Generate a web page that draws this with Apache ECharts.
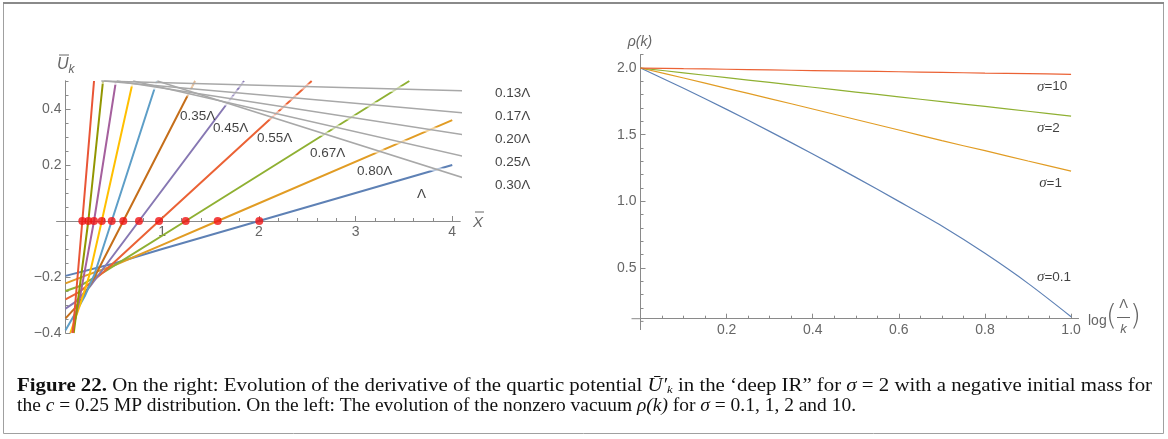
<!DOCTYPE html>
<html><head><meta charset="utf-8">
<script src="https://cdn.jsdelivr.net/npm/echarts@6/dist/echarts.min.js"></script>
<style>html,body{margin:0;padding:0;background:#fff}#c{width:1168px;height:439px}</style>
</head><body><div id="c"></div>
<script>
// ---------- LEFT PANEL DATA (U'_k vs X) ----------
const leftNames = ['Λ','0.80Λ','0.67Λ','0.55Λ','0.45Λ','0.35Λ','0.30Λ','0.25Λ','0.20Λ','0.17Λ','0.13Λ'];
const curveL100 = [[0,-0.196],[0.5,-0.152],[1.0,-0.1],[2.0,0],[3.0,0.1],[4.0,0.2]];
const curveL080 = [[0,-0.223],[0.2,-0.196],[0.5,-0.159],[1.0,-0.085],[1.574,0],[4.0,0.36]];
const curveL067 = [[0,-0.25],[0.15,-0.232],[0.4,-0.182],[1.243,0],[3.556,0.5]];
const curveL055 = [[0,-0.28],[0.15,-0.252],[0.4,-0.18],[0.967,0],[2.546,0.5]];
const curveL045 = [[0,-0.313],[0.1,-0.29],[0.25,-0.235],[0.4,-0.166],[0.76,0],[1.846,0.5]];
const curveL035 = [[0,-0.348],[0.1,-0.31],[0.2,-0.261],[0.3,-0.2],[0.598,0],[1.34,0.5]];
const curveL030 = [[0,-0.39],[0.1,-0.33],[0.2,-0.268],[0.3,-0.19],[0.478,0],[0.946,0.5]];
const curveL025 = [[0.05,-0.4],[0.15,-0.3],[0.25,-0.19],[0.375,0],[0.698,0.5]];
const curveL020 = [[0.07,-0.4],[0.15,-0.27],[0.295,0],[0.522,0.5]];
const curveL017 = [[0.085,-0.4],[0.236,0],[0.388,0.5]];
const curveL013 = [[0.075,-0.4],[0.174,0],[0.295,0.5]];
const leftCurves = [curveL100,curveL080,curveL067,curveL055,curveL045,curveL035,curveL030,curveL025,curveL020,curveL017,curveL013];
const zeroCrossings = [2.004,1.574,1.243,0.967,0.76,0.598,0.478,0.375,0.295,0.236,0.174];
const xTicksLeft = [1,2,3,4];
const yTicksLeft = [-0.4,-0.2,0.2,0.4];

// ---------- RIGHT PANEL DATA (rho(k) vs log(Λ/k)) ----------
const rightNames = ['σ=0.1','σ=1','σ=2','σ=10'];
const logLk = [0,0.1,0.2,0.3,0.4,0.5,0.6,0.7,0.8,0.9,1.0];
const rhoSigma01 = [2.0,1.848,1.69,1.525,1.355,1.18,1.0,0.815,0.61,0.385,0.135];
const rhoSigma1  = [2.0,1.925,1.848,1.771,1.693,1.614,1.535,1.455,1.38,1.303,1.227];
const rhoSigma2  = [2.0,1.964,1.928,1.892,1.856,1.82,1.784,1.748,1.712,1.676,1.64];
const rhoSigma10 = [2.0,1.995,1.991,1.986,1.981,1.977,1.972,1.967,1.962,1.958,1.953];
const rightSeries = [rhoSigma01,rhoSigma1,rhoSigma2,rhoSigma10];
const xTicksRight = [0.2,0.4,0.6,0.8,1.0];
const yTicksRight = [0.5,1.0,1.5,2.0];

// ---------- STYLE / LAYOUT (not data) ----------
const leftColors = ['#5E81B5','#E19C24','#8FB032','#EB6235','#8778B3','#C56E1A','#5D9EC7','#FFBF00','#A5609D','#929600','#E95536'];
const rightColors = ['#5E81B5','#E19C24','#8FB032','#EB6235'];
const axisCol = '#8a8a8a', labCol = '#666666';
const leftLabelAnchor = {
  '0.35Λ':[1.184,0.375],'0.45Λ':[1.525,0.332],'0.55Λ':[1.98,0.296],'0.67Λ':[2.528,0.243],
  '0.80Λ':[3.014,0.179],'Λ':[3.635,0.096],
  '0.13Λ':[4.442,0.457],'0.17Λ':[4.442,0.375],'0.20Λ':[4.442,0.293],'0.25Λ':[4.442,0.211],'0.30Λ':[4.442,0.129]
};
const calloutNames = ['0.13Λ','0.17Λ','0.20Λ','0.25Λ','0.30Λ'];
const calloutStartX = [0.37,0.40,0.53,0.70,0.95];
const rightLabelAnchor = {'σ=10':[0.921,1.86],'σ=2':[0.921,1.548],'σ=1':[0.926,1.135],'σ=0.1':[0.921,0.43]};

function range(a,b,s,skip){const r=[];for(let v=a;v<=b+1e-9;v+=s){const x=Math.round(v*1000)/1000;if(!skip.some(k=>Math.abs(k-x)<1e-6))r.push(x);}return r;}
const fmt1 = v => (v<0?'\u2212':'')+Math.abs(v).toFixed(1);

const chart = echarts.init(document.getElementById('c'));

function mkAx(grid,pos,offset,min,max,ticks,labels,len,fmt){
  return {type:'value',gridIndex:grid,position:pos,offset:offset,min:min,max:max,
    axisLine:{show:true,onZero:false,lineStyle:{color:axisCol,width:1}},
    axisTick:{show:true,inside:true,length:len,customValues:ticks,lineStyle:{color:axisCol}},
    axisLabel:{show:labels,customValues:ticks,color:labCol,fontSize:14,fontFamily:'Liberation Sans',margin:4,formatter:fmt},
    splitLine:{show:false},minorTick:{show:false}};
}
const L_XOFF = -112, L_YOFF = -8.7;
const xAxes = [
  mkAx(0,'bottom',L_XOFF,-0.09,4.08,xTicksLeft,true,5,v=>String(v)),
  mkAx(0,'bottom',L_XOFF,-0.09,4.08,range(0.2,4.0,0.2,xTicksLeft),false,3,null),
  mkAx(1,'bottom',0,0,1.017,xTicksRight,true,5,v=>v.toFixed(1)),
  mkAx(1,'bottom',0,0,1.017,range(0.05,1.0,0.05,xTicksRight),false,3,null)
];
const yAxes = [
  mkAx(0,'left',L_YOFF,-0.4,0.5,yTicksLeft,true,5,fmt1),
  mkAx(0,'left',L_YOFF,-0.4,0.5,range(-0.35,0.5,0.05,[-0.4,-0.2,0,0.2,0.4]),false,3,null),
  mkAx(1,'left',0,0.12,2.1,yTicksRight,true,5,fmt1),
  mkAx(1,'left',0,0.12,2.1,range(0.2,2.1,0.1,yTicksRight),false,3,null)
];

const series = [];
leftCurves.forEach((c,i)=>{
  series.push({type:'line',name:leftNames[i],xAxisIndex:0,yAxisIndex:0,data:c,showSymbol:false,
    smooth:false,lineStyle:{color:leftColors[i],width:2},silent:true,z:2});
});
calloutNames.forEach((n,j)=>{
  const idx = leftNames.indexOf(n);
  const top = leftCurves[idx][leftCurves[idx].length-1];
  const a = leftLabelAnchor[n];
  const pts = [[calloutStartX[j],top[1]],[a[0]-0.15,a[1]+0.006],[a[0]-0.05,a[1]]];
  series.push({type:'line',xAxisIndex:0,yAxisIndex:0,clip:false,showSymbol:false,silent:true,z:3,
    data:pts,lineStyle:{color:'rgba(255,255,255,0.55)',width:6}});
  series.push({type:'line',xAxisIndex:0,yAxisIndex:0,clip:false,showSymbol:false,silent:true,z:4,
    data:pts,lineStyle:{color:'#a8a8a8',width:1.5}});
});
series.push({type:'scatter',xAxisIndex:0,yAxisIndex:0,data:zeroCrossings.map(x=>[x,0]),symbolSize:8,
  itemStyle:{color:'#f01414'},silent:true,z:5});
series.push({type:'scatter',xAxisIndex:0,yAxisIndex:0,clip:false,symbolSize:0,silent:true,z:6,
  data:leftNames.map(n=>({value:leftLabelAnchor[n],name:n})),
  label:{show:true,position:[0,0],align:'left',verticalAlign:'middle',formatter:p=>p.name,
    color:'#111',fontSize:13.5,fontFamily:'Liberation Sans'}});
rightSeries.forEach((arr,i)=>{
  series.push({type:'line',name:rightNames[i],xAxisIndex:2,yAxisIndex:2,data:logLk.map((x,k)=>[x,arr[k]]),
    showSymbol:false,smooth:0.3,lineStyle:{color:rightColors[i],width:1.2},silent:true});
});
series.push({type:'scatter',xAxisIndex:2,yAxisIndex:2,clip:false,symbolSize:0,silent:true,
  data:rightNames.map(n=>({value:rightLabelAnchor[n],name:n})),
  label:{show:true,position:[0,0],align:'left',verticalAlign:'middle',
    formatter:p=>'{i|σ}{r|'+p.name.slice(1)+'}',
    rich:{i:{fontStyle:'italic',fontFamily:'Liberation Serif',fontSize:15,color:'#111'},
          r:{fontFamily:'Liberation Sans',fontSize:13.5,color:'#111'}}}});

// ---------- caption (measured then fitted) ----------
const capFont = 'Liberation Serif', capSize = 18;
const cv = document.createElement('canvas').getContext('2d');
function w(t,st,sz){cv.font=(st||'')+' '+(sz||capSize)+'px "'+capFont+'"';return cv.measureText(t).width;}
const l1 = [['Figure 22.','bold'],[' On the right: Evolution of the derivative of the quartic potential ',''],['U\u0304\u2032','italic'],['k','italic',11],
  [' in the \u2018deep IR\u201d for ',''],['\u03c3','italic'],[' = 2 with a negative initial mass for','']];
const l2 = [['the ',''],['c','italic'],[' = 0.25 MP distribution. On the left: The evolution of the nonzero vacuum ',''],['\u03c1(k)','italic'],[' for ',''],['\u03c3','italic'],[' = 0.1, 1, 2 and 10.','']];
let w1=0; l1.forEach(s=>w1+=w(s[0],s[1],s[2]));
let w2=0; l2.forEach(s=>w2+=w(s[0],s[1],s[2]));
const sx1 = (1152-17)/w1, sx2 = (856-17)/w2;
const rich = {b:{fontWeight:'bold',fontFamily:capFont,fontSize:capSize,fill:'#111'},
  r:{fontFamily:capFont,fontSize:capSize,fill:'#111'},
  i:{fontStyle:'italic',fontFamily:capFont,fontSize:capSize,fill:'#111'},
  s:{fontStyle:'italic',fontFamily:capFont,fontSize:11,fill:'#111',padding:[9,0,0,0]}};
const cap1 = '{b|Figure 22.}{r| On the right: Evolution of the derivative of the quartic potential }{i|U\u0304\u2032}{s|k}{r| in the \u2018deep IR\u201d for }{i|\u03c3}{r| = 2 with a negative initial mass for}';
const cap2 = '{r|the }{i|c}{r| = 0.25 MP distribution. On the left: The evolution of the nonzero vacuum }{i|\u03c1(k)}{r| for }{i|\u03c3}{r| = 0.1, 1, 2 and 10.}';

const graphics = [
  {type:'rect',shape:{x:3.5,y:3.5,width:1160,height:430},style:{fill:'none',stroke:'#a0a0a0',lineWidth:1},silent:true},
  {type:'line',shape:{x1:3,y1:3,x2:1164,y2:3},style:{stroke:'#8a8a8a',lineWidth:2},silent:true},
  {type:'text',x:17,y:386,scaleX:sx1,style:{text:cap1,rich:rich,verticalAlign:'middle',fill:'#111'},silent:true},
  {type:'text',x:17,y:406,scaleX:sx2,style:{text:cap2,rich:rich,verticalAlign:'middle',fill:'#111'},silent:true},
  {type:'text',x:57,y:65,style:{text:'U',fontStyle:'italic',fontFamily:'Liberation Sans',fontSize:16,fill:labCol,verticalAlign:'middle'},silent:true},
  {type:'line',shape:{x1:59,y1:55,x2:69,y2:55},style:{stroke:labCol,lineWidth:1},silent:true},
  {type:'text',x:68.5,y:70,style:{text:'k',fontStyle:'italic',fontFamily:'Liberation Sans',fontSize:12,fill:labCol,verticalAlign:'middle'},silent:true},
  {type:'text',x:473,y:223,style:{text:'X',fontStyle:'italic',fontFamily:'Liberation Sans',fontSize:15,fill:labCol,verticalAlign:'middle'},silent:true},
  {type:'line',shape:{x1:475,y1:212,x2:484,y2:212},style:{stroke:labCol,lineWidth:1},silent:true},
  {type:'text',x:640,y:42,style:{text:'\u03c1(k)',fontStyle:'italic',fontFamily:'Liberation Sans',fontSize:14,fill:labCol,align:'center',verticalAlign:'middle'},silent:true},
  {type:'line',shape:{x1:631.5,y1:318.7,x2:640.5,y2:318.7},style:{stroke:axisCol,lineWidth:1},silent:true},
  {type:'line',shape:{x1:640.5,y1:318.7,x2:640.5,y2:330},style:{stroke:axisCol,lineWidth:1},silent:true},
  {type:'line',shape:{x1:640.5,y1:321.4,x2:643.5,y2:321.4},style:{stroke:axisCol,lineWidth:1},silent:true},
  {type:'text',x:1088,y:321,style:{text:'log',fontFamily:'Liberation Sans',fontSize:14,fill:labCol,verticalAlign:'middle'},silent:true},
  {type:'text',x:1106,y:318,style:{text:'(',fontFamily:'DejaVu Sans',fontWeight:'lighter',fontSize:28,fill:labCol,verticalAlign:'middle'},silent:true},
  {type:'text',x:1123.5,y:304,style:{text:'\u039b',fontFamily:'Liberation Sans',fontSize:13,fill:labCol,align:'center',verticalAlign:'middle'},silent:true},
  {type:'line',shape:{x1:1117,y1:317.5,x2:1130,y2:317.5},style:{stroke:labCol,lineWidth:1},silent:true},
  {type:'text',x:1123.5,y:329,style:{text:'k',fontStyle:'italic',fontFamily:'Liberation Sans',fontSize:13,fill:labCol,align:'center',verticalAlign:'middle'},silent:true},
  {type:'text',x:1130,y:318,style:{text:')',fontFamily:'DejaVu Sans',fontWeight:'lighter',fontSize:28,fill:labCol,verticalAlign:'middle'},silent:true}
];

chart.setOption({
  animation:false,
  backgroundColor:'#ffffff',
  grid:[{left:56.8,top:81,width:403.2,height:252},{left:640.5,top:54.7,width:437.9,height:264}],
  xAxis:xAxes, yAxis:yAxes, series:series, graphic:graphics
});
</script></body></html>
